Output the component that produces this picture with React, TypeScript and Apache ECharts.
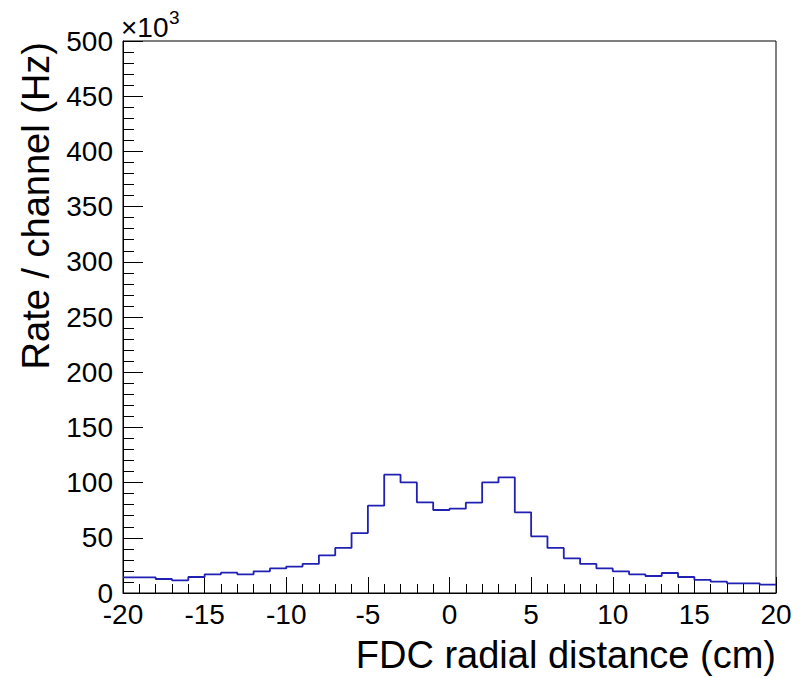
import React, { useEffect, useRef } from "react";
import * as echarts from "echarts";

// Histogram bins (low edges, cm) and rate per channel (×10^3 Hz)
const binLowEdges = [
  -20, -19, -18, -17, -16, -15, -14, -13, -12, -11,
  -10, -9, -8, -7, -6, -5, -4, -3, -2, -1,
  0, 1, 2, 3, 4, 5, 6, 7, 8, 9,
  10, 11, 12, 13, 14, 15, 16, 17, 18, 19,
];
const upperEdge = 20;
const rates = [
  14.2, 14.2, 12.7, 11.5, 14.5, 16.9, 18.4, 16.9, 19.6, 22.3,
  23.9, 26.3, 34.1, 40.8, 54.3, 79.1, 107.2, 100.2, 82.1, 75.2,
  76.4, 81.8, 100.2, 104.8, 73.1, 51.3, 40.8, 31.4, 26.3, 22.3,
  19.6, 16.9, 15.4, 18.1, 14.5, 11.8, 10.3, 8.8, 8.8, 7.5,
];
const xTitle = "FDC radial distance (cm)";
const yTitle = "Rate / channel (Hz)";

const FONT = "Liberation Sans, Arial, Helvetica, sans-serif";

export default function App() {
  const ref = useRef<HTMLDivElement>(null);
  useEffect(() => {
    document.body.style.margin = "0";
    if (!ref.current) return;
    const chart = echarts.init(ref.current, null, { renderer: "svg" });
    const data: [number, number][] = binLowEdges.map((x, i) => [x, rates[i]]);
    data.push([upperEdge, rates[rates.length - 1]]);
    const gridLeft = 123;
    const gridTop = 41;
    const gridW = 653;
    const gridH = 552;
    chart.setOption({
      animation: false,
      backgroundColor: "#ffffff",
      grid: {
        left: gridLeft,
        top: gridTop,
        width: gridW,
        height: gridH,
        show: true,
        borderColor: "#000000",
        borderWidth: 1,
        backgroundColor: "transparent",
      },
      xAxis: {
        type: "value",
        min: -20,
        max: 20,
        interval: 5,
        axisLine: { show: true, onZero: false, lineStyle: { color: "#000", width: 1 } },
        axisTick: { show: true, inside: true, length: 16, lineStyle: { color: "#000", width: 1 } },
        minorTick: { show: true, splitNumber: 5, length: 9, lineStyle: { color: "#000", width: 1 } },
        splitLine: { show: false },
        axisLabel: { color: "#000", fontSize: 28, fontFamily: FONT, margin: 7 },
      },
      yAxis: {
        type: "value",
        min: 0,
        max: 500,
        interval: 50,
        axisLine: { show: true, onZero: false, lineStyle: { color: "#000", width: 1 } },
        axisTick: { show: true, inside: true, length: 20, lineStyle: { color: "#000", width: 1 } },
        minorTick: { show: true, splitNumber: 5, length: 11, lineStyle: { color: "#000", width: 1 } },
        splitLine: { show: false },
        axisLabel: { color: "#000", fontSize: 28, fontFamily: FONT, margin: 10 },
      },
      series: [
        {
          type: "line",
          step: "end",
          data,
          showSymbol: false,
          symbol: "none",
          lineStyle: { color: "#2020b4", width: 1.8 },
          clip: true,
        },
      ],
      graphic: [
        {
          type: "text",
          x: gridLeft + gridW,
          y: 655,
          style: {
            text: xTitle,
            font: `38px ${FONT}`,
            fill: "#000",
            align: "right",
            verticalAlign: "middle",
          },
        },
        {
          type: "text",
          x: 36,
          y: 42,
          rotation: Math.PI / 2,
          style: {
            text: yTitle,
            font: `38px ${FONT}`,
            fill: "#000",
            align: "right",
            verticalAlign: "middle",
          },
        },
        {
          type: "text",
          x: 121,
          y: 27,
          style: {
            text: "×10",
            font: `28px ${FONT}`,
            fill: "#000",
            align: "left",
            verticalAlign: "middle",
          },
        },
        {
          type: "text",
          x: 169,
          y: 17,
          style: {
            text: "3",
            font: `19px ${FONT}`,
            fill: "#000",
            align: "left",
            verticalAlign: "middle",
          },
        },
      ],
    });
    return () => chart.dispose();
  }, []);
  return <div ref={ref} style={{ width: 805, height: 678 }} />;
}
